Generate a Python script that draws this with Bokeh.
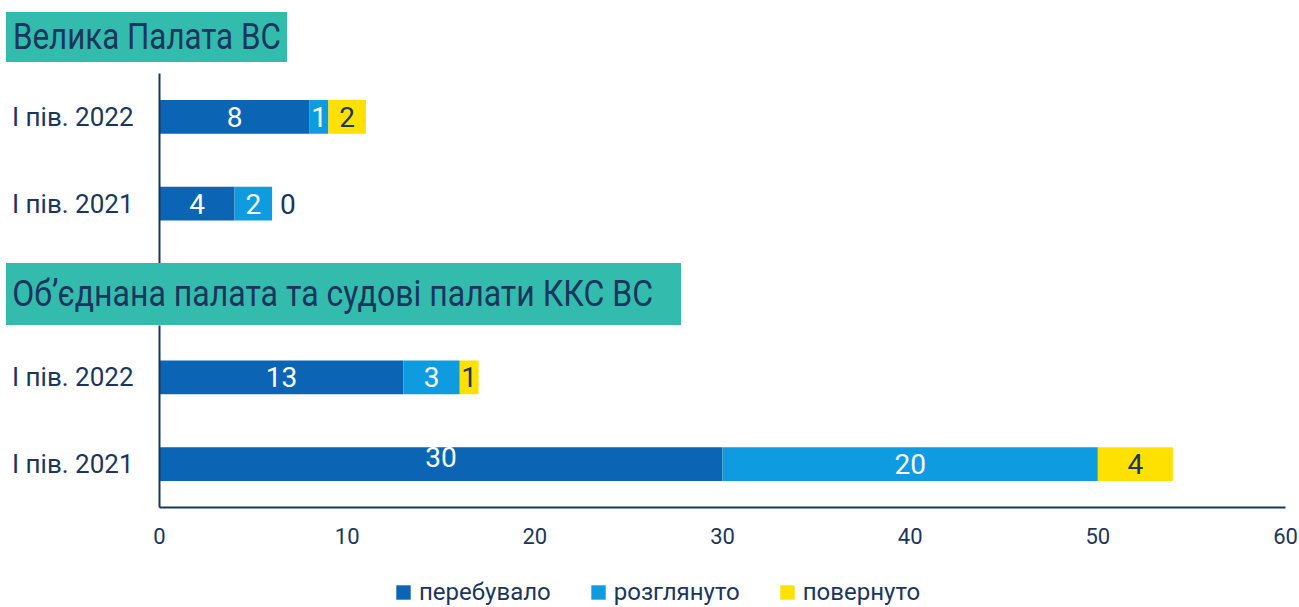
from bokeh.plotting import figure
from bokeh.models import ColumnDataSource, Range1d, FixedTicker, Legend, LegendItem, Div
from bokeh.layouts import column
from bokeh.core.properties import value
from bokeh.embed import file_html
from bokeh.resources import INLINE

groups = ["Велика Палата ВС", "Об’єднана палата та судові палати ККС ВС"]
periods = ["I пів. 2022", "I пів. 2021"]
series = ["перебувало", "розглянуто", "повернуто"]
# values ordered group by group, period by period
perebuvalo = [8, 4, 13, 30]
rozghlianuto = [1, 2, 3, 20]
povernuto = [2, 0, 1, 4]
x_ticks = [0, 10, 20, 30, 40, 50, 60]

colors = ["#0B64B4", "#0E9BE0", "#FFE100"]
label_colors = ["white", "white", "#1B365D"]
navy = "#1B365D"
teal = "#33BCAD"
FONT = "Roboto"

x_range = Range1d(0, 60)


def header(text, top, height, box_w, pad_l, scale):
    return (
        f'<div style="padding:{top}px 0 0 6px;">'
        f'<div style="width:{box_w}px;height:{height}px;background:{teal};white-space:nowrap;overflow:visible;">'
        f'<span style="display:inline-block;transform:scaleX({scale});transform-origin:0 50%;'
        f'font-family:Roboto;font-size:36px;line-height:{height}px;color:{navy};padding-left:{pad_l}px;">'
        f'{text}</span></div></div>'
    )


def style_fig(p):
    p.outline_line_color = None
    p.xgrid.grid_line_color = None
    p.ygrid.grid_line_color = None


def make_fig(g, height, yr, last):
    idx = [g * len(periods) + i for i in range(len(periods))]
    rows = list(range(len(periods)))
    s = [[perebuvalo[j] for j in idx], [rozghlianuto[j] for j in idx], [povernuto[j] for j in idx]]
    source = ColumnDataSource(dict(y=rows, s0=s[0], s1=s[1], s2=s[2]))
    p = figure(width=1299, height=height, output_backend="svg", toolbar_location=None,
               x_range=x_range, y_range=Range1d(*yr),
               x_axis_location="below" if last else None,
               min_border_left=159, min_border_right=14, min_border_top=0,
               min_border_bottom=53 if last else 0)
    style_fig(p)
    p.hbar_stack(["s0", "s1", "s2"], y="y", height=0.39, color=colors,
                 line_color=None, source=source)
    left = [0] * len(rows)
    for k, v in enumerate(s):
        xs, ys, ts, xo, al, yo, cs = [], [], [], [], [], [], []
        for j in range(len(rows)):
            if v[j] > 0:
                xs.append(left[j] + v[j] / 2); xo.append(0); al.append("center")
                cs.append(label_colors[k])
            else:
                xs.append(left[j]); xo.append(8); al.append("left"); cs.append(navy)
            ys.append(rows[j]); ts.append(str(v[j]))
            yo.append(-7 if (k == 0 and v[j] >= 30) else 0)
            left[j] += v[j]
        src = ColumnDataSource(dict(x=xs, y=ys, t=ts, xo=xo, al=al, yo=yo, c=cs))
        p.text(x="x", y="y", text="t", source=src, x_offset="xo", y_offset="yo",
               text_align="al", text_baseline="middle", text_color="c",
               text_font=value(FONT), text_font_size="28px")

    p.yaxis.ticker = FixedTicker(ticks=rows)
    p.yaxis.major_label_overrides = {r: l for r, l in zip(rows, periods)}
    p.yaxis.major_tick_line_color = None
    p.yaxis.major_tick_out = 0
    p.yaxis.minor_tick_line_color = None
    p.yaxis.axis_line_color = navy
    p.yaxis.axis_line_width = 2
    p.yaxis.major_label_text_font = FONT
    p.yaxis.major_label_text_font_size = "26px"
    p.yaxis.major_label_text_color = navy
    p.yaxis.major_label_standoff = 26

    if last:
        p.xaxis.ticker = FixedTicker(ticks=x_ticks)
        p.xaxis.major_tick_line_color = None
        p.xaxis.major_tick_out = 0
        p.xaxis.minor_tick_line_color = None
        p.xaxis.axis_line_color = navy
        p.xaxis.axis_line_width = 2
        p.xaxis.major_label_text_font = FONT
        p.xaxis.major_label_text_font_size = "22px"
        p.xaxis.major_label_text_color = navy
        p.xaxis.major_label_standoff = 20
    return p


# legend strip: its own small plot (frame aligned with the plots above)
def make_legend_fig(height):
    p = figure(width=1299, height=height, output_backend="svg", toolbar_location=None,
               x_range=Range1d(0, 1), y_range=Range1d(0, 1),
               x_axis_location=None, y_axis_location=None, min_border=0)
    style_fig(p)
    # zero-width stand-in bars that only carry the legend styling
    src = ColumnDataSource(dict(y=[0], s0=[0], s1=[0], s2=[0]))
    rends = p.hbar_stack(["s0", "s1", "s2"], y="y", height=0.39, color=colors,
                         line_color=None, source=src)
    legend = Legend(items=[LegendItem(label=series[i], renderers=[rends[i]]) for i in range(3)],
                    orientation="horizontal", location=(235, 1),
                    glyph_width=18, glyph_height=18, label_standoff=7, spacing=38,
                    label_text_font=FONT, label_text_font_size="24px",
                    label_text_color=navy, border_line_color=None,
                    background_fill_alpha=0, padding=0, margin=0)
    p.add_layout(legend, "center")
    return p


h1 = Div(text=header(groups[0], 12, 50, 281, 8, 0.87), width=1299, height=73, margin=0)
f1 = make_fig(0, 190, (1.689, -0.5), False)
h2 = Div(text=header(groups[1], 0, 62, 675, 7, 0.89), width=1299, height=62, margin=0)
f2 = make_fig(1, 235, (1.5, -0.599), True)
f3 = make_legend_fig(47)

layout = column(h1, f1, h2, f2, f3, spacing=0, margin=0)
open("out.html", "w").write(file_html(layout, INLINE))
